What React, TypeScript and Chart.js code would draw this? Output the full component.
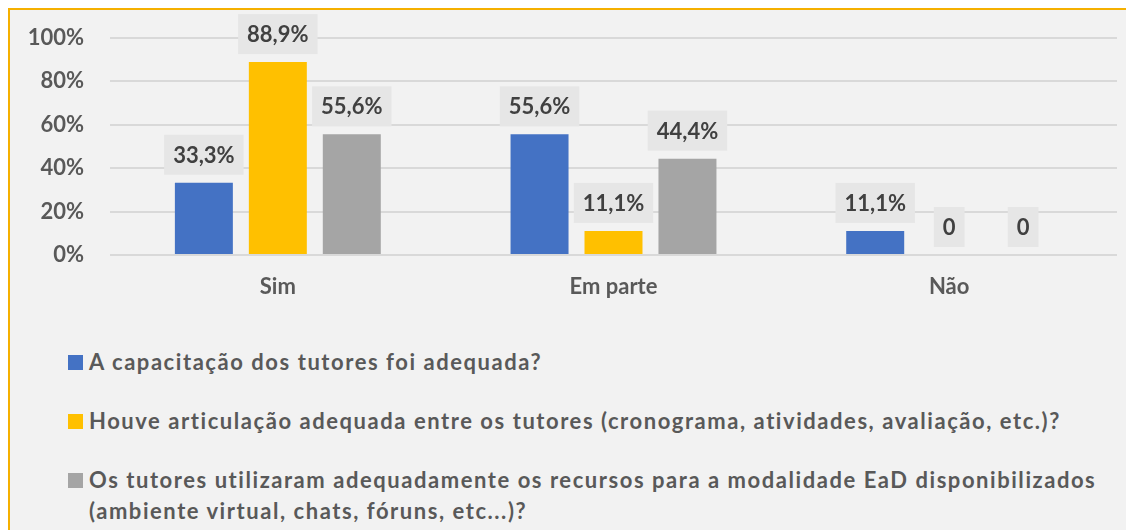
import React, { useEffect, useRef } from "react";
import { Chart, registerables } from "chart.js";

Chart.register(...registerables);

const categories = ["Sim", "Em parte", "Não"];
const seriesNames = [
  "A capacitação dos tutores foi adequada?",
  "Houve articulação adequada entre os tutores (cronograma, atividades, avaliação, etc.)?",
  "Os tutores utilizaram adequadamente os recursos para a modalidade EaD disponibilizados (ambiente virtual, chats, fóruns, etc...)?",
];
const capacitacao = [33.3, 55.6, 11.1];
const articulacao = [88.9, 11.1, 0];
const recursos = [55.6, 44.4, 0];
const colors = ["#4472c4", "#ffc000", "#a5a5a5"];
const yTicks = [0, 20, 40, 60, 80, 100];

const FONT = "Lato, 'Open Sans', sans-serif";

const labelPlugin = {
  id: "boxLabels",
  afterDatasetsDraw(chart: any) {
    const ctx = chart.ctx;
    ctx.save();
    ctx.font = `bold 22px ${FONT}`;
    ctx.textAlign = "center";
    ctx.textBaseline = "middle";
    chart.data.datasets.forEach((ds: any, di: number) => {
      const meta = chart.getDatasetMeta(di);
      meta.data.forEach((el: any, i: number) => {
        const v = ds.data[i];
        const text = v === 0 ? "0" : v.toFixed(1).replace(".", ",") + "%";
        const tw = ctx.measureText(text).width;
        const w = tw + 18;
        const h = 40;
        const bottom = el.y - 8;
        ctx.fillStyle = "#e6e6e6";
        ctx.fillRect(el.x - w / 2, bottom - h, w, h);
        ctx.fillStyle = "#404040";
        ctx.fillText(text, el.x, bottom - h / 2 + 1);
      });
    });
    ctx.restore();
  },
};

export default function App() {
  const ref = useRef<HTMLCanvasElement | null>(null);
  useEffect(() => {
    document.body.style.overflow = "hidden";
    if (!ref.current) return;
    const chart = new Chart(ref.current, {
      type: "bar",
      data: {
        labels: categories,
        datasets: [capacitacao, articulacao, recursos].map((d, i) => ({
          label: seriesNames[i],
          data: d,
          backgroundColor: colors[i],
          categoryPercentage: 0.661,
          barPercentage: 0.784,
        })),
      },
      options: {
        animation: false,
        responsive: false,
        maintainAspectRatio: false,
        layout: { padding: { top: 28, right: 17, left: 0, bottom: 0 } },
        plugins: { legend: { display: false }, tooltip: { enabled: false } },
        scales: {
          x: {
            grid: { display: false },
            border: { display: false },
            ticks: {
              color: "#595959",
              font: { family: FONT, size: 22, weight: "bold" },
              padding: 11,
            },
            afterFit: (s: any) => {
              s.height = 55;
            },
          },
          y: {
            min: 0,
            max: 100,
            afterBuildTicks: (s: any) => {
              s.ticks = yTicks.map((v) => ({ value: v }));
            },
            grid: { color: "#d9d9d9", lineWidth: 2, drawTicks: false },
            border: { display: false },
            ticks: {
              color: "#595959",
              font: { family: FONT, size: 22, weight: "bold" },
              padding: 26,
              callback: (v: any) => v + "%",
            },
            afterFit: (s: any) => {
              s.width = 100;
              s.paddingTop = 0;
              s.paddingBottom = 0;
            },
          },
        },
      },
      plugins: [labelPlugin],
    });
    return () => chart.destroy();
  }, []);

  return (
    <div
      style={{
        position: "relative",
        width: 1126,
        height: 522,
        boxSizing: "border-box",
        borderTop: "2px solid #f5b000",
        borderLeft: "2px solid #f5b000",
        background: "#f2f2f2",
        fontFamily: FONT,
      }}
    >
      <canvas
        ref={ref}
        width={1124}
        height={300}
        style={{ position: "absolute", left: 0, top: 0, width: 1124, height: 300 }}
      />
      <div style={{ position: "absolute", left: 58, top: 335.5, width: 1066 }}>
        {seriesNames.map((n, i) => (
          <div key={i} style={{ display: "flex", alignItems: "flex-start", marginBottom: 28 }}>
            <span
              style={{
                display: "inline-block",
                width: 15,
                height: 15,
                background: colors[i],
                marginTop: 9.5,
                marginRight: 6,
                flex: "none",
              }}
            />
            <span
              style={{
                fontWeight: "bold",
                fontSize: 22,
                letterSpacing: "1.55px",
                lineHeight: "31px",
                color: "#595959",
                width: 1045,
              }}
            >
              {n}
            </span>
          </div>
        ))}
      </div>
    </div>
  );
}
